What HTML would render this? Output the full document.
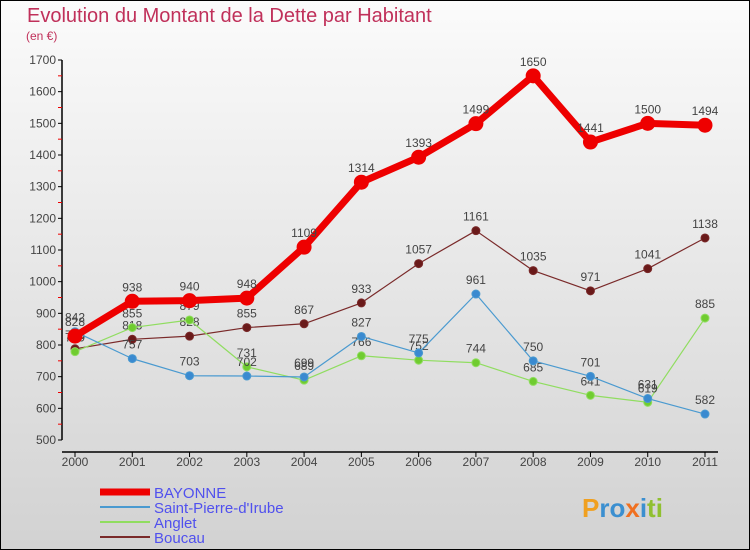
<!DOCTYPE html>
<html><head><meta charset="utf-8"><style>
body{margin:0}
#wrap{width:750px;height:550px;position:relative;overflow:hidden;font-family:"Liberation Sans",sans-serif}
</style></head><body>
<div id="wrap">
<svg id="chart" width="750" height="550" xmlns="http://www.w3.org/2000/svg">
<defs><linearGradient id="bg" x1="0" y1="0" x2="0" y2="1"><stop offset="0" stop-color="#fbfbfb"/><stop offset="1" stop-color="#d2d2d2"/></linearGradient></defs>
<rect x="0.5" y="0.5" width="749" height="549" fill="url(#bg)" stroke="#000"/>
<text x="27" y="22" font-size="20" fill="#c0305a">Evolution du Montant de la Dette par Habitant</text>
<text x="26" y="40" font-size="12" fill="#c0305a">(en €)</text>
<g id="axes"></g><g id="series"></g>
<g id="legend"></g>
<text x="582" y="517" font-size="26" font-weight="bold"><tspan fill="#f0a020">P</tspan><tspan fill="#3b8fd0">ro</tspan><tspan fill="#f07020">x</tspan><tspan fill="#3b8fd0">i</tspan><tspan fill="#90c030">ti</tspan></text>
</svg>
</div>
<script>
const years=[2000,2001,2002,2003,2004,2005,2006,2007,2008,2009,2010,2011];
const yTicks=[500,600,700,800,900,1000,1100,1200,1300,1400,1500,1600,1700];
const bayonne=[828,938,940,948,1109,1314,1393,1499,1650,1441,1500,1494];
const stPierre=[842,757,703,702,699,827,775,961,750,701,631,582];
const anglet=[779,855,879,731,689,766,752,744,685,641,619,885];
const boucau=[788,818,828,855,867,933,1057,1161,1035,971,1041,1138];
const NS="http://www.w3.org/2000/svg";
const xs=i=>75+i*(630/11);
const ys=v=>440-(v-500)*(380/1200);
function mk(t,a,p){const e=document.createElementNS(NS,t);for(const k in a)e.setAttribute(k,a[k]);p.appendChild(e);return e;}
const ax=document.getElementById('axes');
let l=mk('line',{x1:62,y1:60,x2:62,y2:440,stroke:'#000','stroke-width':1.5},ax);


l=mk('line',{x1:62,y1:452,x2:718,y2:452,stroke:'#000','stroke-width':1.5},ax);


yTicks.forEach((v,i)=>{
 mk('line',{x1:58,y1:ys(v),x2:62,y2:ys(v),stroke:'#000'},ax);
 if(i<yTicks.length-1)mk('line',{x1:58,y1:ys(v+50),x2:62,y2:ys(v+50),stroke:'#e00'},ax);
 const t=mk('text',{x:56,y:ys(v)+4,'font-size':12,fill:'#444','text-anchor':'end'},ax);t.textContent=v;
 
 
});
years.forEach((y,i)=>{
 mk('line',{x1:xs(i),y1:452,x2:xs(i),y2:457,stroke:'#000'},ax);
 const t=mk('text',{x:xs(i),y:466,'font-size':12,fill:'#444','text-anchor':'middle'},ax);t.textContent=y;
 
 
});
const sg=document.getElementById('series');
function draw(data,color,w,r,name,dotFill){
 const g=mk('g',{},sg);
 
 
 const p=mk('polyline',{points:data.map((v,i)=>xs(i)+','+ys(v)).join(' '),fill:'none',stroke:color,'stroke-width':w,'stroke-linejoin':'round'},g);
 data.forEach((v,i)=>{
  const c=mk('circle',{cx:xs(i),cy:ys(v),r:r,fill:dotFill,stroke:color,'stroke-width':1},g);
  
  
  const t=mk('text',{x:xs(i),y:ys(v)-10,'font-size':12,fill:'#444','text-anchor':'middle'},g);t.textContent=v;
  
  
 });
}
draw(boucau,'#7a2a2a',1.2,4,'boucau','#6a1a1a');
draw(anglet,'#90dd60',1.2,4,'anglet','#70cc30');
draw(stPierre,'#4a9ad0',1.2,4,'saint-pierre','#3a8ad0');
draw(bayonne,'#ee0000',7,7,'bayonne','#ee0000');
const lg=document.getElementById('legend');
[['BAYONNE','#ee0000',7],['Saint-Pierre-d\'Irube','#4a9ad0',2],['Anglet','#90dd60',2],['Boucau','#7a2a2a',2]].forEach((d,i)=>{
 const y=492+i*15;
 const g=mk('g',{},lg);
 
 
 mk('line',{x1:100,y1:y,x2:150,y2:y,stroke:d[1],'stroke-width':d[2]},g);
 const t=mk('text',{x:154,y:y+6,'font-size':15,fill:'#5050ee'},g);t.textContent=d[0];
});
</script>
</body></html>
